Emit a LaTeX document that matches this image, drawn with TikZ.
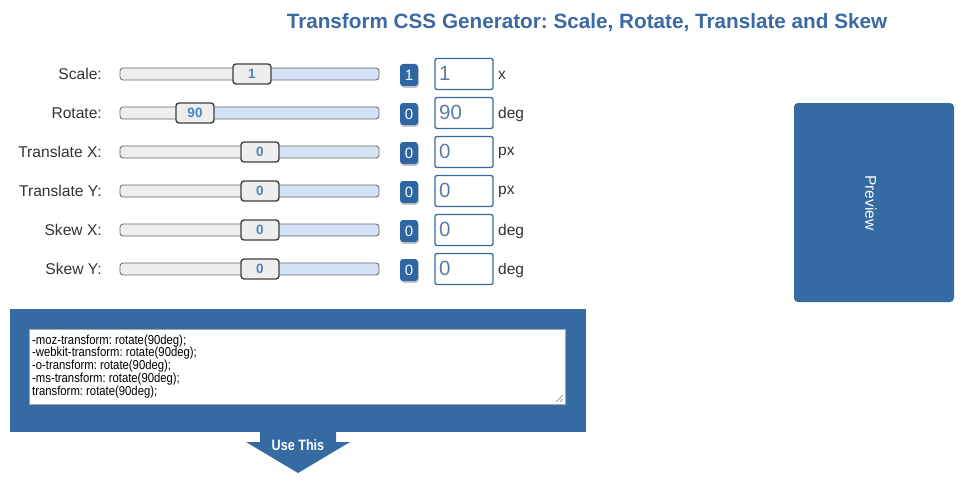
\documentclass[tikz,border=0pt]{standalone}
\usepackage{fontspec}
\setmainfont{Liberation Sans}
\usetikzlibrary{shadows,calc}
\frenchspacing
\definecolor{mainblue}{HTML}{356AA2}
\definecolor{titleblue}{HTML}{3B69A1}
\definecolor{badgeblue}{HTML}{2E66A3}
\definecolor{trackblue}{HTML}{D3E2F5}
\definecolor{trackgray}{HTML}{EEEEEE}
\definecolor{labelgray}{HTML}{333333}
\definecolor{inputtext}{HTML}{5A7CA5}
\definecolor{thumbtext}{HTML}{4A86C0}
\tikzset{
  x=1pt,y=-1pt,
  lbl/.style={anchor=east,inner sep=0,text=labelgray,font=\fontsize{15.6}{16}\selectfont},
  unit/.style={anchor=west,inner sep=0,text=labelgray,font=\fontsize{15.5}{16}\selectfont},
  thumb/.style={draw=black!75,line width=1.4pt,fill=trackgray,rounded corners=3pt,minimum width=38pt,minimum height=20pt,inner sep=0,text=thumbtext,font=\fontsize{13.5}{14}\selectfont\bfseries},
  badge/.style={fill=badgeblue,rounded corners=3pt,minimum width=18pt,minimum height=22pt,inner sep=0,text=white,font=\fontsize{15}{15}\selectfont,drop shadow={shadow xshift=0.8pt,shadow yshift=-1.8pt,opacity=0.45}},
  inbox/.style={draw=mainblue,line width=1.3pt,rounded corners=2pt,minimum width=58pt,minimum height=31pt,inner sep=0},
  intext/.style={anchor=west,inner sep=0,text=inputtext,font=\fontsize{20.5}{21}\selectfont},
  code/.style={anchor=west,inner sep=0,font=\fontsize{13}{13}\selectfont,xscale=0.87}
}
\newcommand{\sliderrow}[8]{%
  % #1 name, #2 y, #3 label, #4 thumb center x, #5 thumb text, #6 badge, #7 value, #8 unit
  \node[lbl] (#1lbl) at (102,#2) {#3};
  \begin{scope}
    \clip[rounded corners=3pt] (120,#2-6) rectangle (379,#2+6);
    \fill[trackblue] (120,#2-6) rectangle (379,#2+6);
    \fill[trackgray] (120,#2-6) rectangle (#4,#2+6);
  \end{scope}
  \draw[black!60,line width=0.8pt,rounded corners=3pt] (120,#2-6) rectangle (379,#2+6);
  \node[thumb] (#1thumb) at (#4,#2) {#5};
  \node[badge] (#1badge) at (409,#2+1) {#6};
  \node[inbox] (#1box) at (464,#2) {};
  \node[intext] (#1val) at (439,#2-1) {#7};
  \node[unit] (#1unit) at (498,#2+1) {#8};
}
\begin{document}
\begin{tikzpicture}
\useasboundingbox[fill=white] (0,0) rectangle (972,487);
\node[text=titleblue,font=\fontsize{20.7}{21}\selectfont\bfseries,inner sep=0] (title) at (587,23) {Transform CSS Generator: Scale, Rotate, Translate and Skew};

\sliderrow{scale}{74}{Scale:}{252}{1}{1}{1}{x}
\sliderrow{rot}{113}{Rotate:}{195}{90}{0}{90}{deg}
\sliderrow{tx}{152}{Translate X:}{260}{0}{0}{0}{px}
\sliderrow{ty}{191}{Translate Y:}{260}{0}{0}{0}{px}
\sliderrow{sx}{230}{Skew X:}{260}{0}{0}{0}{deg}
\sliderrow{sy}{269}{Skew Y:}{260}{0}{0}{0}{deg}

% preview
\fill[mainblue,rounded corners=4pt] (794,103) rectangle (954,302);
\node[rotate=-90,text=white,font=\fontsize{15.5}{16}\selectfont,inner sep=0] (preview) at (871,203) {Preview};

% code panel
\fill[mainblue] (10,309) rectangle (586,432);
\draw[fill=white,draw=black!35,line width=0.8pt] (29,329) rectangle (565,404);
\node[code] (l1) at (32,341) {-moz-transform: rotate(90deg);};
\node[code] (l2) at (32,353.5) {-webkit-transform: rotate(90deg);};
\node[code] (l3) at (32,366.5) {-o-transform: rotate(90deg);};
\node[code] (l4) at (32,379.5) {-ms-transform: rotate(90deg);};
\node[code] (l5) at (32,392.5) {transform: rotate(90deg);};
\draw[black!50,line width=0.6pt] (556,402) -- (563,395) (560,402) -- (563,399);

% use this arrow
\fill[mainblue] (260,431) -- (336,431) -- (336,442) -- (350,442) -- (298,473) -- (246,442) -- (260,442) -- cycle;
\node[text=white,font=\fontsize{15}{15}\selectfont\bfseries,xscale=0.84,inner sep=0] (usethis) at (298,445) {Use This};
\end{tikzpicture}
\end{document}
